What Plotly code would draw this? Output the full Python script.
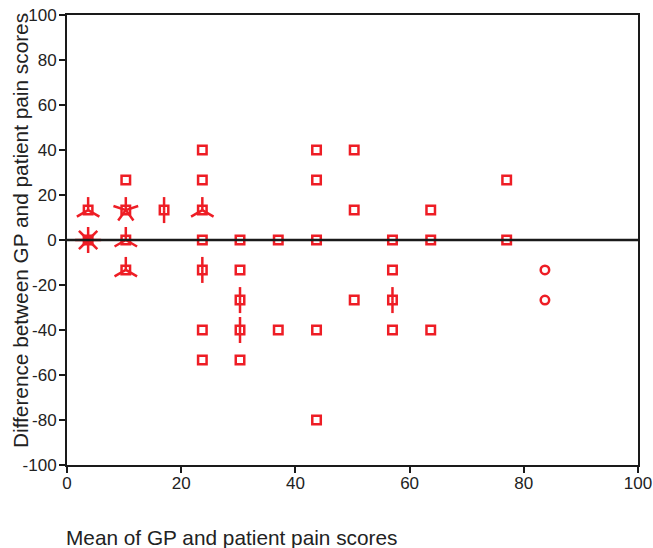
import math
import plotly.graph_objects as go

# Data: mean of scores (x), difference (y), number of coincident observations
mean_vals = [3.7, 3.7,
             10.3, 10.3, 10.3, 10.3,
             17.0,
             23.7, 23.7, 23.7, 23.7, 23.7, 23.7, 23.7,
             30.3, 30.3, 30.3, 30.3, 30.3,
             37.0, 37.0,
             43.7, 43.7, 43.7, 43.7, 43.7,
             50.3, 50.3, 50.3,
             57.0, 57.0, 57.0, 57.0,
             63.7, 63.7, 63.7,
             77.0, 77.0,
             83.7, 83.7]
diff_vals = [13.3, 0,
             26.7, 13.3, 0, -13.3,
             13.3,
             40, 26.7, 13.3, 0, -13.3, -40, -53.3,
             0, -13.3, -26.7, -40, -53.3,
             0, -40,
             40, 26.7, 0, -40, -80,
             40, 13.3, -26.7,
             0, -13.3, -26.7, -40,
             13.3, 0, -40,
             26.7, 0,
             -13.3, -26.7]
counts = [3, 8,
          1, 5, 3, 3,
          2,
          1, 1, 3, 1, 2, 1, 1,
          1, 1, 2, 2, 1,
          1, 1,
          1, 1, 1, 1, 1,
          1, 1, 1,
          1, 1, 2, 1,
          1, 1, 1,
          1, 1,
          1, 1]
symbols = ["square-open"] * 38 + ["circle-open"] * 2

x_ticks = [0, 20, 40, 60, 80, 100]
x_tick_labels = ["0", "20", "40", "60", "80", "100"]
y_ticks = [-100, -80, -60, -40, -20, 0, 20, 40, 60, 80, 100]
y_tick_labels = ["-100", "-80", "-60", "-40", "-20", "0", "20", "40", "60", "80", "100"]

RED = "#EE1D25"
W, H = 653, 548
ML, MR, MT, MB = 67, 15, 15, 83
plot_w = W - ML - MR
plot_h = H - MT - MB
x_range = [0, 100]
y_range = [-100, 100]
px_per_x = plot_w / (x_range[1] - x_range[0])
px_per_y = plot_h / (y_range[1] - y_range[0])
petal_px = 13

# Sunflower petals computed from the counts
px_, py_ = [], []
for xv, yv, n in zip(mean_vals, diff_vals, counts):
    if n < 2:
        continue
    for k in range(n):
        a = math.pi / 2 + 2 * math.pi * k / n
        px_ += [xv, xv + petal_px * math.cos(a) / px_per_x, None]
        py_ += [yv, yv + petal_px * math.sin(a) / px_per_y, None]

fig = go.Figure()
fig.add_trace(go.Scatter(x=px_, y=py_, mode="lines",
                         line=dict(color=RED, width=2.5),
                         hoverinfo="skip", showlegend=False))
fig.add_trace(go.Scatter(x=mean_vals, y=diff_vals, mode="markers",
                         marker=dict(symbol=symbols, size=8.5, color=RED,
                                     line=dict(color=RED, width=2.5)),
                         showlegend=False))

fig.add_shape(type="line", xref="paper", x0=0, x1=1, yref="y", y0=0, y1=0,
              line=dict(color="#1a1a1a", width=2.5), layer="above")

FONT = "Liberation Sans, Arial"
axis_common = dict(showgrid=False, zeroline=False, showline=True, mirror=True,
                   linecolor="#1a1a1a", linewidth=2, ticks="outside",
                   ticklen=6, tickwidth=2, tickcolor="#1a1a1a",
                   ticklabeloverflow="allow", automargin=False,
                   tickfont=dict(family=FONT, size=17, color="#222"))

fig.update_xaxes(range=x_range, tickvals=x_ticks, ticktext=x_tick_labels,
                 ticklabelstandoff=-4, **axis_common)
fig.update_yaxes(range=y_range, tickvals=y_ticks, ticktext=y_tick_labels,
                 ticklabelstandoff=-1, **axis_common)

fig.add_annotation(text="Mean of GP and patient pain scores", xref="paper", yref="paper",
                   x=0, y=-0.16, xanchor="left", yanchor="middle", xshift=-3,
                   showarrow=False,
                   font=dict(family=FONT, size=20.8, color="#222"))
fig.add_annotation(text="Difference between GP and patient pain scores", xref="paper",
                   yref="paper", x=0, y=0.52, xanchor="center", yanchor="middle",
                   xshift=-47, textangle=-90, showarrow=False,
                   font=dict(family=FONT, size=20.8, color="#222"))

fig.update_layout(width=W, height=H, margin=dict(l=ML, r=MR, t=MT, b=MB, autoexpand=False),
                  plot_bgcolor="white", paper_bgcolor="white")

fig.write_html("out.html", config={"displayModeBar": False},
               post_script="document.body.style.margin='0';document.body.style.overflow='hidden';")
